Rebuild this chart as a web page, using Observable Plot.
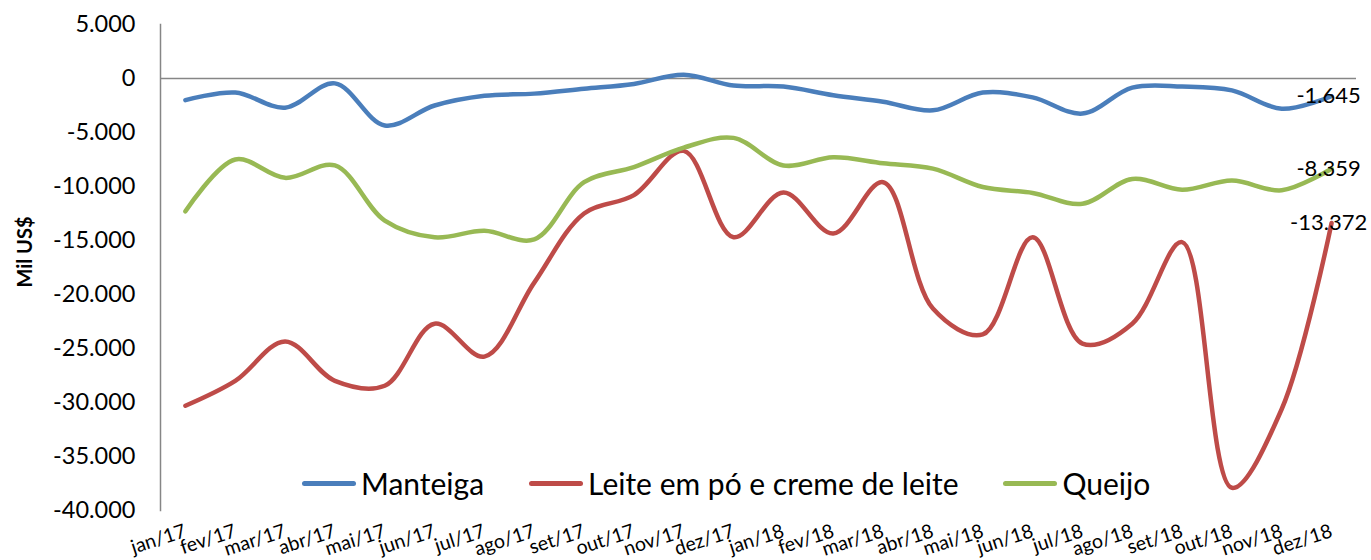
<!DOCTYPE html>
<html>
<head>
<meta charset="utf-8">
<script src="https://cdn.jsdelivr.net/npm/d3@7"></script>
<script src="https://cdn.jsdelivr.net/npm/@observablehq/plot@0.6"></script>
<style>
  html, body { margin: 0; padding: 0; background: #fff; }
  #wrap { position: relative; width: 1371px; height: 560px; font-family: Lato, "Open Sans", sans-serif; }
  #legend { position: absolute; left: 302px; top: 465px; display: flex; align-items: center; gap: 45px; font-size: 30px; color: #000; white-space: nowrap; }
  .item { display: flex; align-items: center; gap: 5px; }
  .swatch { width: 54px; height: 5px; border-radius: 3px; }
  #ytitle { position: absolute; left: 24px; top: 252px; transform: translate(-50%, -50%) rotate(-90deg); font-weight: bold; font-size: 20px; white-space: nowrap; }
</style>
</head>
<body>
<div id="wrap"></div>
<script>
const months = ["jan/17","fev/17","mar/17","abr/17","mai/17","jun/17","jul/17","ago/17","set/17","out/17","nov/17","dez/17",
                "jan/18","fev/18","mar/18","abr/18","mai/18","jun/18","jul/18","ago/18","set/18","out/18","nov/18","dez/18"];
const seriesNames = ["Manteiga", "Leite em pó e creme de leite", "Queijo"];
const seriesColors = ["#4A7EBB", "#BE4B48", "#98B954"];
const manteiga = [-2000,-1300,-2700,-450,-4350,-2500,-1600,-1400,-950,-500,350,-650,-750,-1550,-2150,-2950,-1300,-1750,-3250,-850,-750,-1100,-2800,-1645];
const leite = [-30300,-28000,-24350,-28000,-28450,-22700,-25750,-18900,-12500,-10800,-6700,-14700,-10550,-14350,-9600,-21300,-23700,-14700,-24550,-22700,-15150,-37900,-30600,-13372];
const queijo = [-12300,-7500,-9200,-8050,-13150,-14700,-14100,-14900,-9600,-8200,-6400,-5500,-8050,-7300,-7850,-8350,-10050,-10600,-11600,-9300,-10300,-9450,-10350,-8359];
const yTicks = [5000,0,-5000,-10000,-15000,-20000,-25000,-30000,-35000,-40000];
const yTitle = "Mil US$";

const values = [manteiga, leite, queijo];
const rows = [];
values.forEach((arr, s) => arr.forEach((v, i) => rows.push({serie: seriesNames[s], mes: months[i], valor: v})));
const last = values.map((arr, s) => ({serie: seriesNames[s], mes: months[months.length - 1], valor: arr[arr.length - 1]}));

const loc = d3.formatLocale({decimal: ",", thousands: ".", grouping: [3], currency: ["", ""], minus: "-"});
const fmt = loc.format(",d");

const chart = Plot.plot({
  width: 1371,
  height: 560,
  marginLeft: 160,
  marginRight: 15,
  marginTop: 24,
  marginBottom: 50,
  style: {fontFamily: "Lato, 'Open Sans', sans-serif", color: "#000", background: "#fff"},
  x: {type: "point", domain: months, padding: 0.5, round: false, label: null},
  y: {domain: [-40000, 5000], label: null},
  color: {domain: seriesNames, range: seriesColors},
  marks: [
    Plot.axisY({ticks: yTicks, tickFormat: fmt, tickSize: 0, tickPadding: 25, fontSize: 23.5, label: null}),
    Plot.frame({anchor: "left", stroke: "#868686", strokeWidth: 1.5}),
    Plot.ruleY([0], {stroke: "#868686", strokeWidth: 1.5}),
    Plot.line(rows, {x: "mes", y: "valor", z: "serie", stroke: "serie", strokeWidth: 4.5, curve: "catmull-rom", strokeLinecap: "round", strokeLinejoin: "round"}),
    Plot.text(last, {x: "mes", y: "valor", text: d => fmt(d.valor), fontSize: 22, dx: -3, fill: "#000"}),
    Plot.axisX({tickSize: 0, tickRotate: -18, tickPadding: 20, fontSize: 19.5, textAnchor: "end", label: null})
  ]
});

const wrap = document.getElementById("wrap");
wrap.appendChild(chart);

const t = document.createElement("div");
t.id = "ytitle";
t.textContent = yTitle;
wrap.appendChild(t);

const lg = document.createElement("div");
lg.id = "legend";
seriesNames.forEach((n, i) => {
  const it = document.createElement("div");
  it.className = "item";
  const sw = document.createElement("div");
  sw.className = "swatch";
  sw.style.background = seriesColors[i];
  const tx = document.createElement("span");
  tx.textContent = n;
  it.appendChild(sw); it.appendChild(tx);
  lg.appendChild(it);
});
wrap.appendChild(lg);
</script>
</body>
</html>
